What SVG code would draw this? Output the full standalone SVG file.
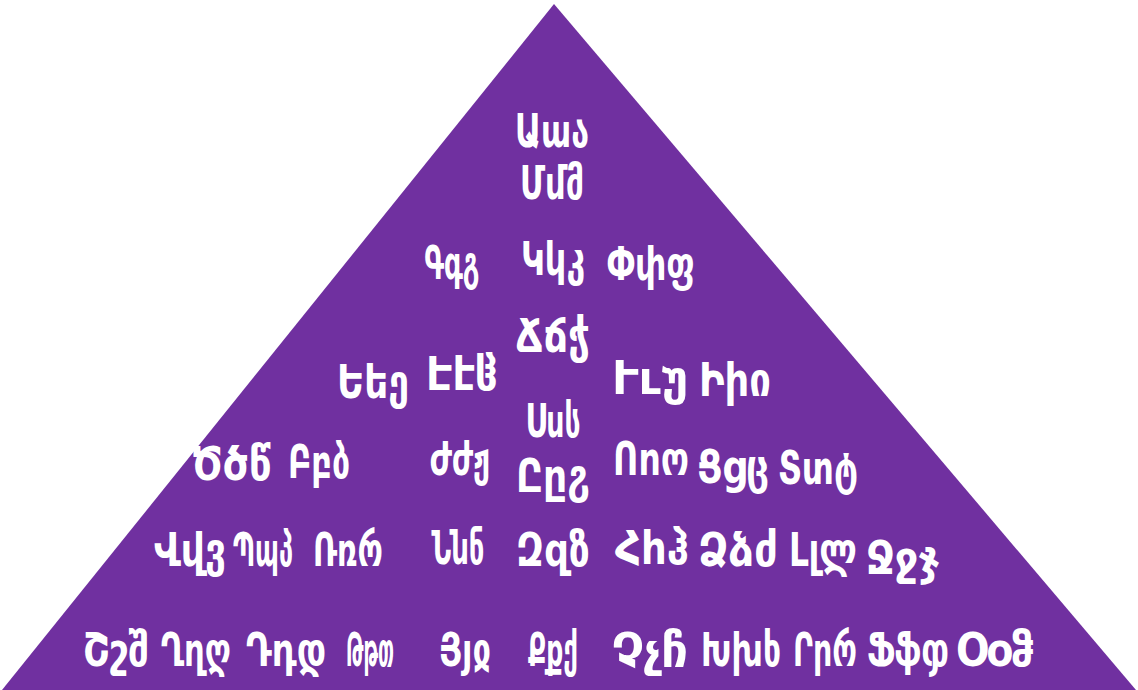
<svg xmlns="http://www.w3.org/2000/svg" width="1138" height="690" viewBox="0 0 1138 690">
<style>
.t{font-family:"DejaVu Sans Condensed","DejaVu Sans","Noto Sans",sans-serif;font-weight:bold;font-size:38px;fill:#ffffff;text-anchor:middle}
</style>
<rect width="1138" height="690" fill="#ffffff"/>
<polygon id="pyramid" points="554,4 2,690 1136,690" fill="#7030a0"/>
<g id="letters">
<g id="c1"><text class="t" transform="translate(552,147) scale(1,1.2)" textLength="74" lengthAdjust="spacingAndGlyphs">Աաა</text></g>
<g id="c2"><text class="t" transform="translate(552,199) scale(1,1.2)" textLength="64" lengthAdjust="spacingAndGlyphs">Մմმ</text></g>
<g id="c3"><text class="t" transform="translate(452,279) scale(1,1.2)" textLength="55" lengthAdjust="spacingAndGlyphs">Գգგ</text></g>
<g id="c4"><text class="t" transform="translate(553,275) scale(1,1.2)" textLength="64" lengthAdjust="spacingAndGlyphs">Կկკ</text></g>
<g id="c5"><text class="t" transform="translate(651,280) scale(1,1.2)" textLength="88" lengthAdjust="spacingAndGlyphs">Փփფ</text></g>
<g id="c6"><text class="t" transform="translate(553,352) scale(1,1.2)" textLength="74" lengthAdjust="spacingAndGlyphs">Ճճჭ</text></g>
<g id="c7"><text class="t" transform="translate(373,398) scale(1,1.2)" textLength="72" lengthAdjust="spacingAndGlyphs">Եեე</text></g>
<g id="c8"><text class="t" transform="translate(462,390) scale(1,1.2)" textLength="72" lengthAdjust="spacingAndGlyphs">Էէჱ</text></g>
<g id="c37"><text class="t" transform="translate(650,394) scale(1,1.2)" textLength="76" lengthAdjust="spacingAndGlyphs">Ււუ</text></g>
<g id="c38"><text class="t" transform="translate(735,396) scale(1,1.2)" textLength="72" lengthAdjust="spacingAndGlyphs">Իիი</text></g>
<g id="c9"><text class="t" transform="translate(553,437) scale(1,1.2)" textLength="55" lengthAdjust="spacingAndGlyphs">Սսს</text></g>
<g id="c10"><text class="t" transform="translate(231,480) scale(1,1.2)" textLength="80" lengthAdjust="spacingAndGlyphs">Ծծწ</text></g>
<g id="c11"><text class="t" transform="translate(319,478) scale(1,1.2)" textLength="62" lengthAdjust="spacingAndGlyphs">Բբბ</text></g>
<g id="c12"><text class="t" transform="translate(460,475) scale(1,1.2)" textLength="60" lengthAdjust="spacingAndGlyphs">Ժժჟ</text></g>
<g id="c13"><text class="t" transform="translate(553,492) scale(1,1.2)" textLength="74" lengthAdjust="spacingAndGlyphs">Ըըჷ</text></g>
<g id="c14"><text class="t" transform="translate(651,475) scale(1,1.2)" textLength="76" lengthAdjust="spacingAndGlyphs">Ոոო</text></g>
<g id="c15"><text class="t" transform="translate(733,483) scale(1,1.2)" textLength="72" lengthAdjust="spacingAndGlyphs">Ցցც</text></g>
<g id="c16"><text class="t" transform="translate(818,484) scale(1,1.2)" textLength="80" lengthAdjust="spacingAndGlyphs">Տտტ</text></g>
<g id="c17"><text class="t" transform="translate(190,566) scale(1,1.2)" textLength="72" lengthAdjust="spacingAndGlyphs">Վվვ</text></g>
<g id="c18"><text class="t" transform="translate(263,566) scale(1,1.2)" textLength="60" lengthAdjust="spacingAndGlyphs">Պպპ</text></g>
<g id="c19"><text class="t" transform="translate(348,566) scale(1,1.2)" textLength="70" lengthAdjust="spacingAndGlyphs">Ռռრ</text></g>
<g id="c20"><text class="t" transform="translate(458,564) scale(1,1.2)" textLength="53" lengthAdjust="spacingAndGlyphs">Ննნ</text></g>
<g id="c21"><text class="t" transform="translate(553,566) scale(1,1.2)" textLength="74" lengthAdjust="spacingAndGlyphs">Զզზ</text></g>
<g id="c22"><text class="t" transform="translate(652,564) scale(1,1.2)" textLength="74" lengthAdjust="spacingAndGlyphs">Հհჰ</text></g>
<g id="c23"><text class="t" transform="translate(738,566) scale(1,1.2)" textLength="80" lengthAdjust="spacingAndGlyphs">Ձձძ</text></g>
<g id="c24"><text class="t" transform="translate(823,566) scale(1,1.2)" textLength="68" lengthAdjust="spacingAndGlyphs">Լլლ</text></g>
<g id="c25"><text class="t" transform="translate(903,574) scale(1,1.2)" textLength="74" lengthAdjust="spacingAndGlyphs">Ջջჯ</text></g>
<g id="c26"><text class="t" transform="translate(116,666) scale(1,1.2)" textLength="66" lengthAdjust="spacingAndGlyphs">Շշშ</text></g>
<g id="c27"><text class="t" transform="translate(196,666) scale(1,1.2)" textLength="70" lengthAdjust="spacingAndGlyphs">Ղղღ</text></g>
<g id="c28"><text class="t" transform="translate(286,666) scale(1,1.2)" textLength="80" lengthAdjust="spacingAndGlyphs">Դդდ</text></g>
<g id="c29"><text class="t" transform="translate(370,666) scale(1,1.2)" textLength="48" lengthAdjust="spacingAndGlyphs">Թթთ</text></g>
<g id="c30"><text class="t" transform="translate(465,666) scale(1,1.2)" textLength="52" lengthAdjust="spacingAndGlyphs">Յյჲ</text></g>
<g id="c31"><text class="t" transform="translate(553,666) scale(1,1.2)" textLength="50" lengthAdjust="spacingAndGlyphs">Քքქ</text></g>
<g id="c32"><text class="t" transform="translate(650,666) scale(1,1.2)" textLength="76" lengthAdjust="spacingAndGlyphs">Չչჩ</text></g>
<g id="c33"><text class="t" transform="translate(741,666) scale(1,1.2)" textLength="80" lengthAdjust="spacingAndGlyphs">Խխხ</text></g>
<g id="c34"><text class="t" transform="translate(825,666) scale(1,1.2)" textLength="64" lengthAdjust="spacingAndGlyphs">Րրრ</text></g>
<g id="c35"><text class="t" transform="translate(908,666) scale(1,1.2)" textLength="82" lengthAdjust="spacingAndGlyphs">Ֆֆჶ</text></g>
<g id="c36"><text class="t" transform="translate(995,666) scale(1,1.2)" textLength="78" lengthAdjust="spacingAndGlyphs">Օօჵ</text></g>
</g>
</svg>
